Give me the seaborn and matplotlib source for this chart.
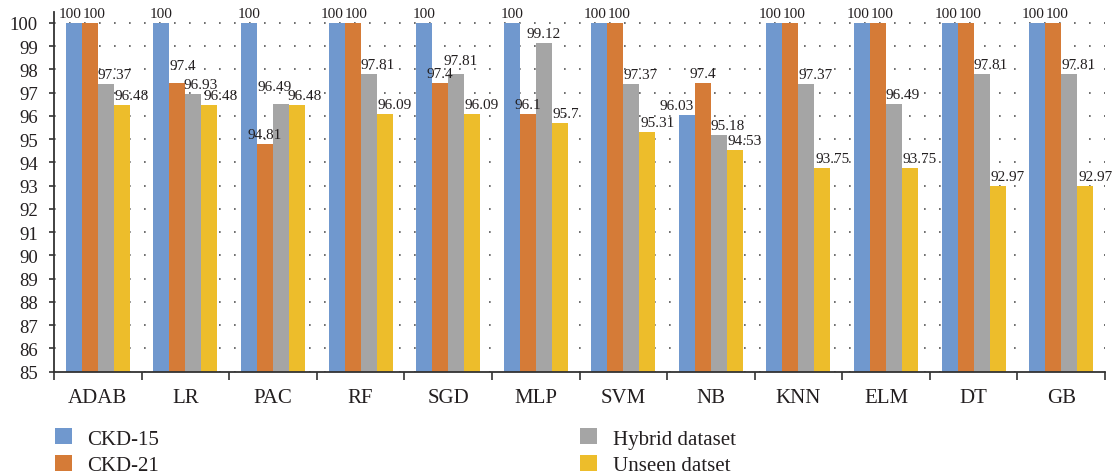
import numpy as np
import pandas as pd
import matplotlib
matplotlib.use("Agg")
import matplotlib.pyplot as plt
import seaborn as sns
from matplotlib.ticker import FixedLocator, MultipleLocator
from matplotlib.patches import Patch

categories = ["ADAB", "LR", "PAC", "RF", "SGD", "MLP", "SVM", "NB", "KNN", "ELM", "DT", "GB"]
series_names = ["CKD-15", "CKD-21", "Hybrid dataset", "Unseen datset"]
ckd15 = [100, 100, 100, 100, 100, 100, 100, 96.03, 100, 100, 100, 100]
ckd21 = [100, 97.4, 94.81, 100, 97.4, 96.1, 100, 97.4, 100, 100, 100, 100]
hybrid = [97.37, 96.93, 96.49, 97.81, 97.81, 99.12, 97.37, 95.18, 97.37, 96.49, 97.81, 97.81]
unseen = [96.48, 96.48, 96.48, 96.09, 96.09, 95.7, 95.31, 94.53, 93.75, 93.75, 92.97, 92.97]
colors = ["#7098CE", "#D57B37", "#A5A5A5", "#EDBD2B"]

# label placement style (pixel nudges, as in the reference layout)
default_dx = [-4, 4, 9, 10]
label_nudge = {
    ("LR", 0): (0, 0), ("PAC", 0): (0, 0), ("SGD", 0): (0, 0), ("MLP", 0): (0, 0),
    ("NB", 0): (-10, 0),
    ("LR", 1): (5, 8), ("PAC", 1): (0, 0), ("SGD", 1): (0, 0), ("MLP", 1): (0, 0), ("NB", 1): (0, 0),
    ("LR", 2): (7, 0), ("PAC", 2): (-6, 8), ("SGD", 2): (5, 4), ("MLP", 2): (0, 0),
    ("LR", 3): (11, 0), ("MLP", 3): (6, 0), ("PAC", 3): (8, 0),
}

all_series = [ckd15, ckd21, hybrid, unseen]
rows = []
for name, vals in zip(series_names, all_series):
    for c, v in zip(categories, vals):
        rows.append({"Model": c, "Series": name, "Value": v})
df = pd.DataFrame(rows)

sns.set_theme(style="white")
plt.rcParams["font.family"] = ["Liberation Serif", "DejaVu Serif"]
text_color = "#231F20"

fig = plt.figure(figsize=(11.15, 4.77), dpi=100)
ax = fig.add_axes([54 / 1115, 1 - 372.5 / 477, (1105 - 54) / 1115, (372.5 - 13) / 477])

sns.barplot(data=df, x="Model", y="Value", hue="Series", order=categories,
            hue_order=series_names, palette=colors, width=0.73, gap=0,
            saturation=1, ax=ax, legend=False, linewidth=0, errorbar=None)

ax.set_ylim(85, 100.47)
ax.set_xlim(-0.5, len(categories) - 0.5)
ax.yaxis.set_major_locator(MultipleLocator(1))
ax.set_axisbelow(True)
ax.grid(axis="y", color="#555555", linewidth=1.2, linestyle=(0, (1, 8)))
ax.grid(axis="x", visible=False)

px = 72 / 100  # points per pixel
for si, cont in enumerate(ax.containers):
    for ci, patch in enumerate(cont.patches):
        val = all_series[si][ci]
        cat = categories[ci]
        dx, dy = label_nudge.get((cat, si), (default_dx[si], 0))
        if si == 0 and (cat, si) not in label_nudge and all_series[1][ci] != 100:
            dx = 0
        xc = patch.get_x() + patch.get_width() / 2
        ax.annotate(f"{val:g}", xy=(xc, patch.get_height()),
                    xytext=(dx * px, (3 + dy) * px), textcoords="offset points",
                    ha="center", va="bottom", fontsize=11, color=text_color,
                    annotation_clip=False)

ax.set_xlabel("")
ax.set_ylabel("")
for s in ["top", "right"]:
    ax.spines[s].set_visible(False)
for s in ["left", "bottom"]:
    ax.spines[s].set_color("#333333")
    ax.spines[s].set_linewidth(1.3)

ax.tick_params(axis="y", which="major", left=True, length=3.6, width=1.2, color="#333333",
               labelsize=13.5, labelcolor=text_color, pad=8)
ax.tick_params(axis="x", which="major", bottom=False, length=0, labelsize=15,
               labelcolor=text_color, pad=12)
ax.xaxis.set_minor_locator(FixedLocator(np.arange(-0.5, len(categories), 1.0)))
ax.tick_params(axis="x", which="minor", bottom=True, length=6, width=1.2, color="#333333")

handles = [Patch(facecolor=col, edgecolor="none") for col in colors]
fig.legend(handles, series_names, loc="upper left", bbox_to_anchor=(47 / 1115, 1 - 421 / 477),
           ncol=2, frameon=False, fontsize=15, handlelength=0.8, handleheight=0.8,
           handletextpad=0.75, columnspacing=20.2, labelspacing=0.3, borderaxespad=0,
           labelcolor=text_color)

fig.savefig("out.png", dpi=100)
